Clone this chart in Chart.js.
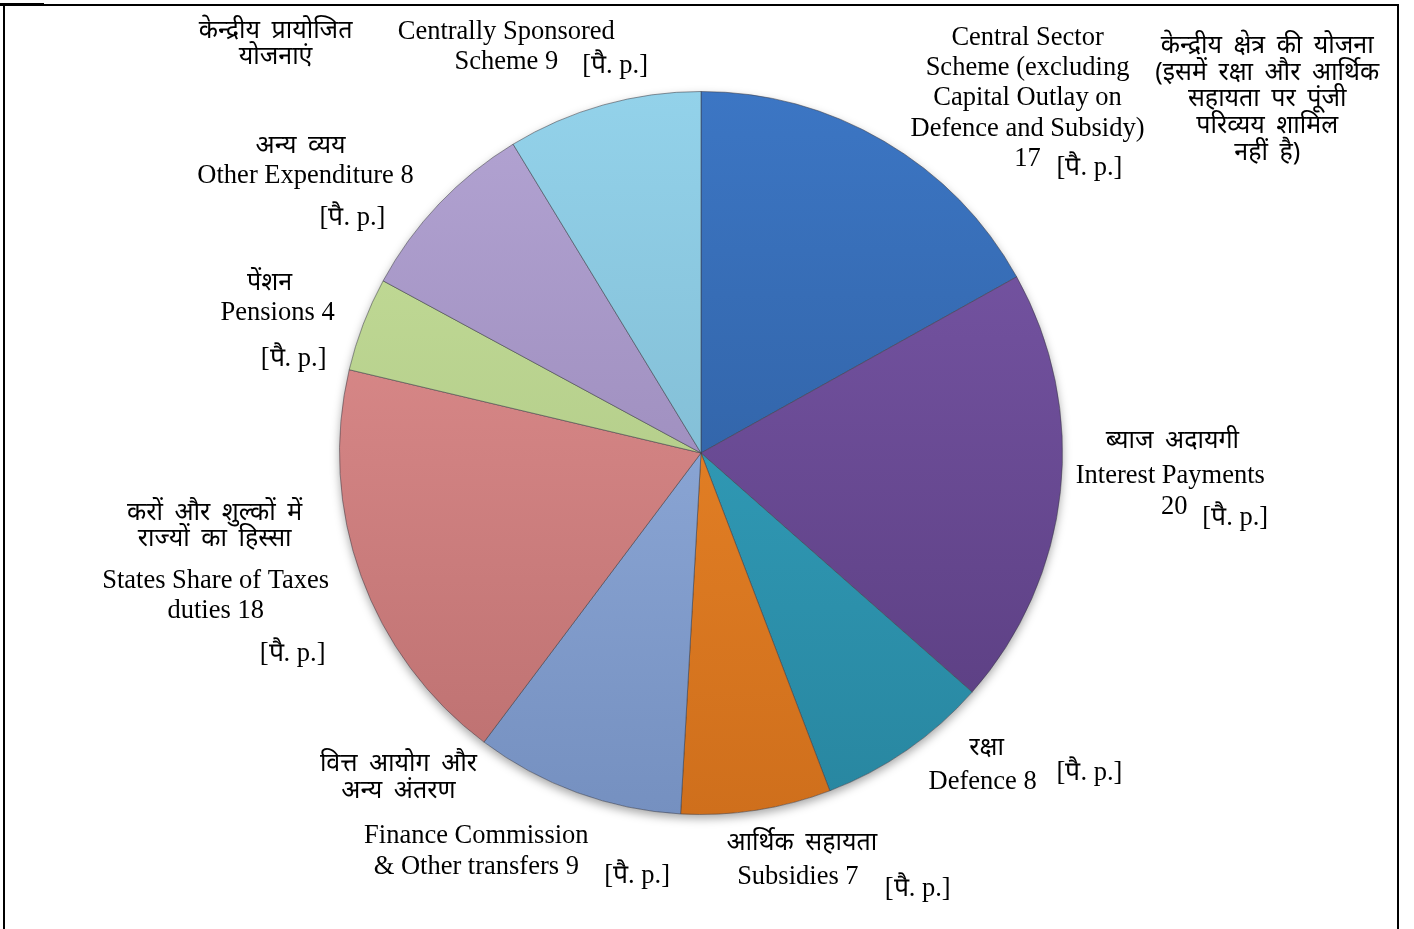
<!DOCTYPE html>
<html>
<head>
<meta charset="utf-8">
<script src="https://cdn.jsdelivr.net/npm/chart.js@4.4.1/dist/chart.umd.min.js"></script>
<style>
    html, body { margin: 0; padding: 0; background: #fff; overflow: hidden; }
    #wrap { position: relative; width: 1414px; height: 929px; }
    #frame { position: absolute; left: 3px; top: 4px; width: 1396px; height: 960px; border: 2px solid #000; box-sizing: border-box; }
    #stub { position: absolute; left: 0; top: 3px; width: 44px; height: 3px; background: #000; }
    canvas { position: absolute; left: 0; top: 0; }
</style>
</head>
<body>
<div id="wrap">
    <canvas id="chart-div" width="1414" height="929"></canvas>
    <div id="frame"></div>
    <div id="stub"></div>
</div>
<script>
var categorias = ['Central Sector Scheme (excluding Capital Outlay on Defence and Subsidy)', 'Interest Payments', 'Defence',
    'Subsidies', 'Finance Commission & Other transfers', 'States Share of Taxes duties', 'Pensions',
    'Other Expenditure', 'Centrally Sponsored Scheme'];
// slice sizes (paise per rupee)
var fatias = [16.9, 19.6, 7.7, 6.7, 9.35, 18.45, 4.2, 8.4, 8.7];
// the rounded values printed in the labels
var valoresRotulo = [17, 20, 8, 7, 9, 18, 4, 8, 9];
var unidade = '[पै. p.]';

var coresTopo = ['#3c76c4', '#7b59aa', '#36a9c6', '#f28c2c', '#9db8e6', '#e69494', '#c7e09a', '#b3a4d3', '#93d2ea'];
var coresBase = ['#2a5692', '#583c7e', '#2886a0', '#cf6f1c', '#7590c0', '#bb6f6f', '#a5bf7f', '#8e7dae', '#75adc4'];

var FONTE_EN = '26.5px "Liberation Serif", "Times New Roman", serif';
var FONTE_HI = '25px "Noto Sans", "Noto Sans Devanagari", "Lohit Devanagari", "FreeSans", sans-serif';

// label blocks: [text, font, dx, dy] with dx/dy in px from the pie centre
var rotulos = [
    [['Central Sector', FONTE_EN, 327, -416], ['Scheme (excluding', FONTE_EN, 327, -385], ['Capital Outlay on', FONTE_EN, 327, -355],
     ['Defence and Subsidy)', FONTE_EN, 327, -324], ['{v}', FONTE_EN, 327, -294], ['{u}', FONTE_EN, 389, -285],
     ['केन्द्रीय क्षेत्र की योजना', FONTE_HI, 567, -408], ['(इसमें रक्षा और आर्थिक', FONTE_HI, 567, -381],
     ['सहायता पर पूंजी', FONTE_HI, 567, -355], ['परिव्यय शामिल', FONTE_HI, 567, -328], ['नहीं है)', FONTE_HI, 567, -301]],
    [['ब्याज अदायगी', FONTE_HI, 472, -12], ['Interest Payments', FONTE_EN, 470, 23], ['{v}', FONTE_EN, 474, 54], ['{u}', FONTE_EN, 535, 65]],
    [['रक्षा', FONTE_HI, 286, 295], ['Defence {v}', FONTE_EN, 282, 330], ['{u}', FONTE_EN, 389, 320]],
    [['आर्थिक सहायता', FONTE_HI, 101, 390], ['Subsidies {v}', FONTE_EN, 97, 425], ['{u}', FONTE_EN, 217, 437]],
    [['वित्त आयोग और', FONTE_HI, -303, 311], ['अन्य अंतरण', FONTE_HI, -303, 338], ['Finance Commission', FONTE_EN, -225, 384],
     ['& Other transfers {v}', FONTE_EN, -225, 415], ['{u}', FONTE_EN, -64, 424]],
    [['करों और शुल्कों में', FONTE_HI, -487, 60], ['राज्यों का हिस्सा', FONTE_HI, -487, 86], ['States Share of Taxes', FONTE_EN, -486, 128],
     ['duties {v}', FONTE_EN, -486, 158], ['{u}', FONTE_EN, -409, 201]],
    [['पेंशन', FONTE_HI, -432, -170], ['Pensions {v}', FONTE_EN, -424, -140], ['{u}', FONTE_EN, -408, -94]],
    [['अन्य व्यय', FONTE_HI, -401, -308], ['Other Expenditure {v}', FONTE_EN, -396, -277], ['{u}', FONTE_EN, -349, -235]],
    [['केन्द्रीय प्रायोजित', FONTE_HI, -426, -423], ['योजनाएं', FONTE_HI, -426, -397], ['Centrally Sponsored', FONTE_EN, -195, -422],
     ['Scheme {v}', FONTE_EN, -195, -391], ['{u}', FONTE_EN, -86, -387]]
];

function gradiente(context) {
    var chart = context.chart, area = chart.chartArea, i = context.dataIndex;
    if (!area) {
        return coresTopo[i];
    }
    var g = chart.ctx.createLinearGradient(0, area.top, 0, area.bottom);
    g.addColorStop(0, coresTopo[i]);
    g.addColorStop(1, coresBase[i]);
    return g;
}

var sombra = {
    id: 'sombra',
    beforeDatasetsDraw: function (chart) {
        var arco = chart.getDatasetMeta(0).data[0];
        if (!arco) return;
        var ctx = chart.ctx;
        ctx.save();
        ctx.shadowColor = 'rgba(0,0,0,0.35)';
        ctx.shadowBlur = 10;
        ctx.shadowOffsetY = 4;
        ctx.fillStyle = '#ffffff';
        ctx.beginPath();
        ctx.arc(arco.x, arco.y, arco.outerRadius, 0, Math.PI * 2);
        ctx.fill();
        ctx.restore();
    }
};

var textos = {
    id: 'textos',
    afterDraw: function (chart) {
        var arco = chart.getDatasetMeta(0).data[0];
        if (!arco) return;
        var ctx = chart.ctx, escala = arco.outerRadius / 362;
        ctx.save();
        ctx.fillStyle = '#000';
        ctx.textAlign = 'center';
        ctx.textBaseline = 'middle';
        for (var i = 0; i < rotulos.length; i++) {
            for (var k = 0; k < rotulos[i].length; k++) {
                var l = rotulos[i][k];
                var t = l[0].replace('{v}', valoresRotulo[i]).replace('{u}', unidade);
                ctx.font = l[1];
                // Mangal-style wide gaps between Hindi words
                ctx.wordSpacing = (l[1] === FONTE_HI) ? '5px' : '0px';
                ctx.fillText(t, arco.x + l[2] * escala, arco.y + l[3] * escala);
            }
        }
        ctx.restore();
    }
};

var config = {
    type: 'pie',
    data: {
        labels: categorias,
        datasets: [{
            data: fatias,
            backgroundColor: gradiente,
            borderColor: 'rgba(60,60,70,0.55)',
            borderWidth: 1
        }]
    },
    options: {
        responsive: false,
        animation: false,
        layout: { padding: { left: 339, right: 351, top: 91, bottom: 114 } },
        plugins: {
            legend: { display: false },
            tooltip: { enabled: false },
            title: { display: false }
        }
    },
    plugins: [sombra, textos]
};

var grafico = new Chart(document.getElementById('chart-div').getContext('2d'), config);
</script>
</body>
</html>
